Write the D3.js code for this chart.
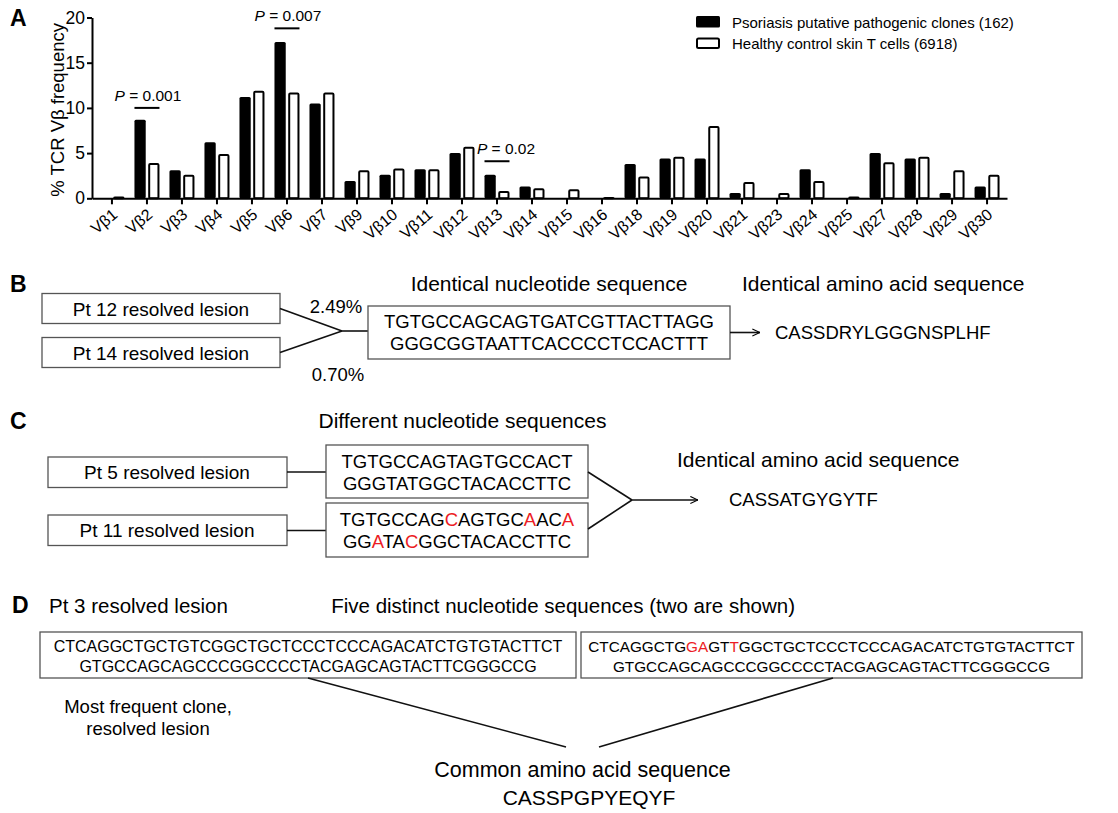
<!DOCTYPE html>
<html>
<head>
<meta charset="utf-8">
<script src="https://cdn.jsdelivr.net/npm/d3@7"></script>
<style>
  body { margin: 0; background: #fff; }
  svg { font-family: "Liberation Sans", Arial, Helvetica, sans-serif; }
</style>
</head>
<body>
<svg id="fig" width="1118" height="813"></svg>
<script>
// ---- panel A data ----
const categories = ["Vβ1", "Vβ2", "Vβ3", "Vβ4", "Vβ5", "Vβ6", "Vβ7", "Vβ9", "Vβ10",
  "Vβ11", "Vβ12", "Vβ13", "Vβ14", "Vβ15", "Vβ16", "Vβ18", "Vβ19", "Vβ20", "Vβ21",
  "Vβ23", "Vβ24", "Vβ25", "Vβ27", "Vβ28", "Vβ29", "Vβ30"];
const psoriasis = [0, 8.7, 3.1, 6.2, 11.2, 17.3, 10.5, 1.9, 2.6, 3.2, 5.0, 2.6, 1.3, 0,
  0, 3.8, 4.4, 4.4, 0.6, 0, 3.2, 0, 5.0, 4.4, 0.6, 1.3];
const healthy = [0.2, 3.9, 2.6, 4.9, 11.9, 11.7, 11.7, 3.1, 3.3, 3.2, 5.7, 0.8, 1.1, 1.0,
  0.15, 2.4, 4.6, 8.0, 1.8, 0.6, 1.9, 0.2, 4.0, 4.6, 3.1, 2.6];
const seriesKeys = ["psoriasis", "healthy"];
const seriesLabels = ["Psoriasis putative pathogenic clones (162)",
  "Healthy control skin T cells (6918)"];
const yTicks = [0, 5, 10, 15, 20];
const yTitle = "% TCR Vβ frequency";

// p-value brackets: category, bracket height (in %), label
const pCats = ["Vβ2", "Vβ6", "Vβ13"];
const pLevels = [10.0, 18.8, 4.1];
const pLabels = ["0.001", "0.007", "0.02"];

// ---- panels B-D text ----
const seqB = ["TGTGCCAGCAGTGATCGTTACTTAGG", "GGGCGGTAATTCACCCCTCCACTTT"];
// lower case letters are the changed (red) bases
const seqC1 = ["TGTGCCAGTAGTGCCACT", "GGGTATGGCTACACCTTC"];
const seqC2 = ["TGTGCCAGcAGTGCaACa", "GGaTAcGGCTACACCTTC"];
const seqD1 = ["CTCAGGCTGCTGTCGGCTGCTCCCTCCCAGACATCTGTGTACTTCT",
  "GTGCCAGCAGCCCGGCCCCTACGAGCAGTACTTCGGGCCG"];
const seqD2 = ["CTCAGGCTGgaGTtGGCTGCTCCCTCCCAGACATCTGTGTACTTCT",
  "GTGCCAGCAGCCCGGCCCCTACGAGCAGTACTTCGGGCCG"];
const aminoB = "CASSDRYLGGGNSPLHF";
const aminoC = "CASSATGYGYTF";
const aminoD = "CASSPGPYEQYF";

const RED = "#ec1c24";
const BOX = "#555";

const svg = d3.select("#fig");

const defs = svg.append("defs");
defs.append("marker")
    .attr("id", "arr")
    .attr("viewBox", "0 0 10 10")
    .attr("refX", 9.5)
    .attr("refY", 5)
    .attr("markerWidth", 9)
    .attr("markerHeight", 9)
    .attr("markerUnits", "userSpaceOnUse")
    .attr("orient", "auto")
  .append("path")
    .attr("d", "M1,1 L9.5,5 L1,9")
    .attr("fill", "none")
    .attr("stroke", "#000")
    .attr("stroke-width", 1.2);

// small helpers
function label(x, y, str, size, anchor, weight) {
  return svg.append("text")
    .attr("x", x).attr("y", y)
    .attr("font-size", size)
    .attr("text-anchor", anchor || "start")
    .attr("font-weight", weight || "normal")
    .attr("fill", "#000")
    .text(str);
}

function box(x, y, w, h) {
  svg.append("rect")
    .attr("x", x).attr("y", y).attr("width", w).attr("height", h)
    .attr("fill", "#fff").attr("stroke", BOX).attr("stroke-width", 1.3);
}

function line(x1, y1, x2, y2, arrow) {
  const l = svg.append("line")
    .attr("x1", x1).attr("y1", y1).attr("x2", x2).attr("y2", y2)
    .attr("stroke", "#111").attr("stroke-width", 1.6);
  if (arrow) l.attr("marker-end", "url(#arr)");
}

// sequence text, red for lower case runs
function seqText(x, y, s, size) {
  const t = svg.append("text")
    .attr("x", x).attr("y", y)
    .attr("font-size", size)
    .attr("text-anchor", "middle");
  s.split(/([a-z]+)/).filter(p => p.length).forEach(p => {
    t.append("tspan")
      .attr("fill", p === p.toLowerCase() ? RED : "#000")
      .text(p.toUpperCase());
  });
}

// ================= panel A =================
const X = d3.scaleBand()
            .domain(categories)
            .range([92, 1007])
            .paddingOuter(0.07);

const XS = d3.scaleBand()
             .domain(seriesKeys)
             .range([-12.5, 12.5])
             .paddingInner(0.18);

const Y = d3.scaleLinear()
            .domain([0, 20])
            .range([198.3, 17.5]);

const cx = (c) => X(c) + X.bandwidth() / 2;

const rows = categories.map((c, i) => ({cat: c, psoriasis: psoriasis[i], healthy: healthy[i]}));

const gBars = svg.append("g");

gBars.selectAll(".pso")
  .data(rows.filter(d => d.psoriasis > 0))
  .enter()
  .append("rect")
    .attr("class", "pso")
    .attr("x", d => cx(d.cat) + XS("psoriasis"))
    .attr("y", d => Y(d.psoriasis))
    .attr("width", XS.bandwidth())
    .attr("height", d => Y(0) - Y(d.psoriasis))
    .attr("rx", 1.5)
    .attr("fill", "#000");

gBars.selectAll(".hc")
  .data(rows.filter(d => d.healthy > 0))
  .enter()
  .append("rect")
    .attr("class", "hc")
    .attr("x", d => cx(d.cat) + XS("healthy") + 1)
    .attr("y", d => Y(d.healthy) + 1)
    .attr("width", XS.bandwidth() - 2)
    .attr("height", d => Math.max(Y(0) - Y(d.healthy) - 1, 0.3))
    .attr("rx", 1)
    .attr("fill", "#fff")
    .attr("stroke", "#000")
    .attr("stroke-width", 2);

// axes
const xAxis = svg.append("g")
    .attr("transform", "translate(0," + Y(0) + ")")
    .call(d3.axisBottom(X).tickSize(6).tickSizeOuter(0));
xAxis.select(".domain").attr("stroke-width", 2);
xAxis.selectAll(".tick line").attr("stroke-width", 2);
xAxis.selectAll(".tick text")
    .attr("x", 0).attr("y", 0).attr("dy", "0.74em")
    .attr("transform", "translate(-1,9) rotate(-40)")
    .attr("text-anchor", "end")
    .attr("font-size", 16)
    .attr("font-family", "Liberation Sans, Arial, sans-serif")
    .attr("fill", "#000");

const yAxis = svg.append("g")
    .attr("transform", "translate(92,0)")
    .call(d3.axisLeft(Y).tickValues(yTicks).tickSize(5).tickSizeOuter(0));
yAxis.select(".domain").attr("stroke-width", 2);
yAxis.selectAll(".tick line").attr("stroke-width", 2);
yAxis.selectAll(".tick text")
    .attr("x", -7)
    .attr("font-size", 17.5)
    .attr("font-family", "Liberation Sans, Arial, sans-serif")
    .attr("fill", "#000");

svg.append("text")
    .attr("transform", "translate(64," + ((Y(0) + Y(20)) / 2 + 2) + ") rotate(-90)")
    .attr("text-anchor", "middle")
    .attr("font-size", 18.5)
    .text(yTitle);

// p-value brackets
pCats.forEach((c, i) => {
  const yy = Y(pLevels[i]);
  svg.append("line")
      .attr("x1", cx(c) - 12.5).attr("x2", cx(c) + 12.5)
      .attr("y1", yy).attr("y2", yy)
      .attr("stroke", "#000").attr("stroke-width", 2);
  const t = svg.append("text")
      .attr("x", cx(c) + (i === 2 ? 9 : 1))
      .attr("y", yy - 7)
      .attr("text-anchor", "middle")
      .attr("font-size", 15.5);
  t.append("tspan").attr("font-style", "italic").text("P");
  t.append("tspan").text(" = " + pLabels[i]);
});

// legend
seriesLabels.forEach((s, i) => {
  const ly = 16 + i * 21.5;
  svg.append("rect")
      .attr("x", 697 + (i ? 0 : -1)).attr("y", ly + (i ? 1 : 0))
      .attr("width", i ? 22 : 24).attr("height", i ? 9.5 : 11.5)
      .attr("rx", 1.5)
      .attr("fill", i ? "#fff" : "#000")
      .attr("stroke", "#000")
      .attr("stroke-width", i ? 2 : 0);
  label(732, ly + 11.5, s, 15);
});

label(10, 26, "A", 23, "start", "bold");

// ================= panel B =================
label(10, 292, "B", 23, "start", "bold");
box(42, 293.5, 238, 30);
box(42, 337.5, 238, 30);
label(161, 315.5, "Pt 12 resolved lesion", 19, "middle");
label(161, 359.5, "Pt 14 resolved lesion", 19, "middle");
line(280, 308.5, 342, 331);
line(280, 352.5, 342, 331);
line(342, 331, 368, 331);
label(336, 313, "2.49%", 18.5, "middle");
label(338, 381, "0.70%", 18.5, "middle");
box(368, 306, 362, 53);
seqText(549, 328, seqB[0], 18.5);
seqText(549, 350, seqB[1], 18.5);
label(549, 291, "Identical nucleotide sequence", 21, "middle");
line(730, 332.5, 760, 332.5, true);
label(775, 339, aminoB, 18.5);
label(742, 291, "Identical amino acid sequence", 21);

// ================= panel C =================
label(10, 429, "C", 23, "start", "bold");
label(462.5, 428, "Different nucleotide sequences", 21, "middle");
box(48, 457, 239, 30.5);
box(48, 515, 239, 30.5);
label(167, 479, "Pt 5 resolved lesion", 19, "middle");
label(167, 537, "Pt 11 resolved lesion", 19, "middle");
line(287, 472, 326, 472);
line(287, 530.5, 326, 530.5);
box(326, 445, 262, 53);
box(326, 503, 262, 54);
seqText(457, 468, seqC1[0], 18.5);
seqText(457, 490, seqC1[1], 18.5);
seqText(457, 526, seqC2[0], 18.5);
seqText(457, 548, seqC2[1], 18.5);
line(588, 472, 632, 500);
line(588, 529, 632, 500);
line(632, 500, 698, 500, true);
label(677, 467, "Identical amino acid sequence", 21);
label(729, 506, aminoC, 18.5);

// ================= panel D =================
label(12, 613, "D", 23, "start", "bold");
label(49, 613, "Pt 3 resolved lesion", 20.5);
label(795, 613, "Five distinct nucleotide sequences (two are shown)", 20.5, "end");
box(40, 632, 536, 46);
box(581, 632, 501, 46);
seqText(308, 652, seqD1[0], 16);
seqText(308, 672, seqD1[1], 16);
seqText(831.5, 652, seqD2[0], 15.3);
seqText(831.5, 672, seqD2[1], 15.3);
label(148, 713, "Most frequent clone,", 18.5, "middle");
label(148, 735, "resolved lesion", 18.5, "middle");
line(308, 678, 566, 747);
line(833, 678, 599, 747);
label(582.5, 777, "Common amino acid sequence", 21.5, "middle");
label(589, 805, aminoD, 21, "middle");
</script>
</body>
</html>
